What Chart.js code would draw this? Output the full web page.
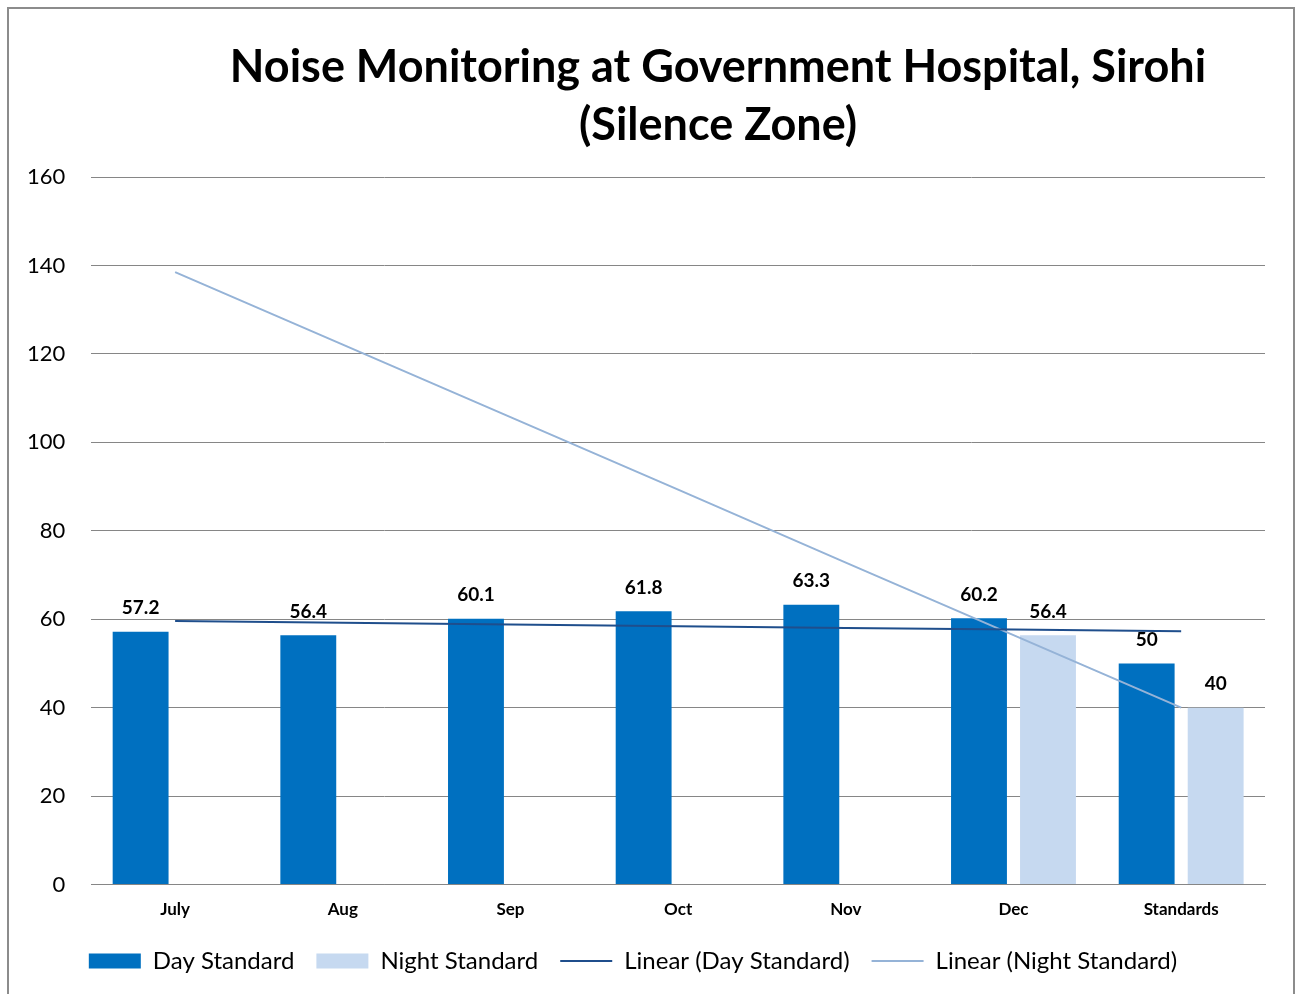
<!DOCTYPE html>
<html>
<head>
<meta charset="utf-8">
<title>Noise Monitoring at Government Hospital, Sirohi</title>
<script src="https://cdn.jsdelivr.net/npm/chart.js@4.4.1/dist/chart.umd.min.js"></script>
<style>
    html, body { margin: 0; padding: 0; background: #ffffff; overflow: hidden; }
    #frame {
        position: absolute; left: 7px; top: 7px;
        width: 1288px; height: 1000px;
        box-sizing: border-box;
        border: 2px solid #8c8c8c;
    }
    #title {
        position: absolute; left: 168px; width: 1100px; top: 36px;
        text-align: center; white-space: nowrap;
        font-family: Lato, "Open Sans", sans-serif;
        font-weight: bold; font-size: 45px; line-height: 58px;
        color: #000000;
    }
    #noiseChart { position: absolute; left: 0; top: 0; }
</style>
</head>
<body>

<div id="frame"></div>
<canvas id="noiseChart" width="1296" height="994"></canvas>
<div id="title">Noise Monitoring at Government Hospital, Sirohi<br>(Silence Zone)</div>

<script>
/*====================================
        Noise Chart Data
====================================*/

const months = ["July", "Aug", "Sep", "Oct", "Nov", "Dec", "Standards"];

const dayStandard = [57.2, 56.4, 60.1, 61.8, 63.3, 60.2, 50];
const nightStandard = [null, null, null, null, null, 56.4, 40];

// trend lines
const dayTrend = [59.6, 59.2, 58.8, 58.4, 58.0, 57.7, 57.3];
const nightTrend = [138.5, 122.1, 105.7, 89.3, 72.8, 56.4, 40.0];

const yTicks = [0, 20, 40, 60, 80, 100, 120, 140, 160];

const fontName = "Lato, 'Open Sans', sans-serif";

/*====================================
        Bar value labels
====================================*/

const barLabels = {
    id: "barLabels",
    afterDatasetsDraw(chart) {
        const ctx = chart.ctx;
        ctx.save();
        ctx.font = "bold 19px " + fontName;
        ctx.fillStyle = "#000000";
        ctx.textAlign = "center";
        ctx.textBaseline = "bottom";
        chart.data.datasets.forEach((ds, i) => {
            if (ds.type !== "bar") return;
            const meta = chart.getDatasetMeta(i);
            meta.data.forEach((bar, j) => {
                const v = ds.data[j];
                if (v === null) return;
                ctx.fillText(String(v), bar.x, bar.y - 14);
            });
        });
        ctx.restore();
    }
};

let noiseChart;

function initializeChart() {

    const canvas = document.getElementById("noiseChart");

    if (noiseChart) noiseChart.destroy();

    noiseChart = new Chart(canvas, {

        data: {

            labels: months,

            datasets: [
                {
                    type: "bar",
                    label: "Day Standard",
                    data: dayStandard,
                    backgroundColor: "#0070c0",
                    pointStyle: "rect",
                    order: 2,
                    barPercentage: 0.81,
                    categoryPercentage: 0.823
                },
                {
                    type: "bar",
                    label: "Night Standard",
                    data: nightStandard,
                    backgroundColor: "#c6d9f0",
                    pointStyle: "rect",
                    order: 2,
                    barPercentage: 0.81,
                    categoryPercentage: 0.823
                },
                {
                    type: "line",
                    label: "Linear (Day Standard)",
                    data: dayTrend,
                    borderColor: "#1f4e8c",
                    borderWidth: 2,
                    pointRadius: 0,
                    pointStyle: "line",
                    order: 1
                },
                {
                    type: "line",
                    label: "Linear (Night Standard)",
                    data: nightTrend,
                    borderColor: "#95b3d7",
                    borderWidth: 2,
                    pointRadius: 0,
                    pointStyle: "line",
                    order: 1
                }
            ]

        },

        options: {
            responsive: false,
            animation: false,
            layout: {
                padding: { left: 1, right: 31, top: 177, bottom: 11 }
            },
            plugins: {
                tooltip: { enabled: false },
                title: { display: false },
                legend: {
                    position: "bottom",
                    labels: {
                        usePointStyle: true,
                        pointStyleWidth: 52,
                        boxHeight: 15,
                        padding: 22,
                        color: "#000000",
                        font: { family: fontName, size: 24 },
                        sort: (a, b) => a.datasetIndex - b.datasetIndex
                    }
                }
            },
            scales: {
                x: {
                    grid: { display: false },
                    border: { color: "#868686", width: 1 },
                    ticks: {
                        color: "#000000",
                        padding: 7,
                        font: { family: fontName, size: 17, weight: "bold" }
                    }
                },
                y: {
                    min: 0,
                    max: 160,
                    afterBuildTicks: axis => {
                        axis.ticks = yTicks.map(v => ({ value: v }));
                    },
                    grid: { color: "#868686", lineWidth: 1, drawTicks: false },
                    border: { display: false },
                    ticks: {
                        color: "#000000",
                        padding: 26,
                        font: { family: fontName, size: 22 }
                    }
                }
            }
        },

        plugins: [barLabels]

    });

}

initializeChart();
</script>
</body>
</html>
